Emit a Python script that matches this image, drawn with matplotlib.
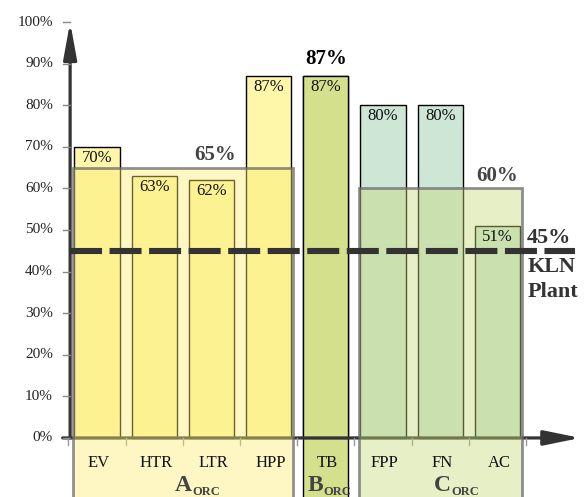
import numpy as np
import matplotlib.pyplot as plt
from matplotlib.patches import Rectangle

plt.rcParams['font.family'] = ['Liberation Serif', 'DejaVu Serif']

# efficiencies per component (%)
categories = ['EV', 'HTR', 'LTR', 'HPP', 'TB', 'FPP', 'FN', 'AC']
values = [70, 63, 62, 87, 87, 80, 80, 51]

# group averages
group_names = ['A', 'B', 'C']
group_members = [[0, 1, 2, 3], [4], [5, 6, 7]]
group_values = [65, 87, 60]
kln_plant = 45

bar_w = 0.79
dark = '#333333'

yellow = '#fef6a8'
mint = '#cde6d6'
olive = '#d4e08c'
bar_colors = [yellow] * 4 + [olive] + [mint] * 3

fig = plt.figure(figsize=(5.86, 4.97), dpi=100)
ax = fig.add_axes([0, 0, 1, 1])
ax.set_xlim(-1.696, 8.549)
ax.set_ylim(-14.2, 105.3)
ax.axis('off')

x = np.arange(len(categories))

# B group: a solid column from the bottom edge up to its value
ax.add_patch(Rectangle((4 - bar_w / 2, -20), bar_w, group_values[1] + 20,
                       facecolor=olive, edgecolor='black', lw=1.0, zorder=1))

# bars
ax.bar(x, values, width=bar_w, color=bar_colors, edgecolor='black',
       linewidth=1.0, zorder=2)

# axes with arrows
ax.annotate('', xy=(-0.47, 100), xytext=(-0.47, 0),
            arrowprops=dict(arrowstyle='-|>,head_length=2.2,head_width=0.4',
                            color=dark, lw=2.3, mutation_scale=10,
                            shrinkA=0, shrinkB=0), zorder=3)
ax.annotate('', xy=(8.45, 0), xytext=(-0.6, 0),
            arrowprops=dict(arrowstyle='-|>,head_length=2.2,head_width=0.45',
                            color=dark, lw=2.3, mutation_scale=10,
                            shrinkA=0, shrinkB=0), zorder=3)

# y ticks and labels
for t in range(0, 101, 10):
    ax.plot([-0.6, -0.47], [t, t], color='#888888', lw=1.0, zorder=3)
    ax.text(-0.77, t, f'{t}%', ha='right', va='center', fontsize=11,
            color='#222222')

# x ticks at the bar boundaries
for b in np.arange(-0.5, 8.0, 1.0):
    ax.plot([b, b], [0, -1.6], color='#999999', lw=1.0, zorder=3)

# translucent group boxes for A and C
pad = 0.03
box_faces = {'A': (253 / 255, 238 / 255, 116 / 255, 0.42),
             'C': (199 / 255, 219 / 255, 122 / 255, 0.42)}
for name, members, gv in zip(group_names, group_members, group_values):
    if name not in box_faces:
        continue
    x0 = members[0] - bar_w / 2 - pad
    x1 = members[-1] + bar_w / 2 + pad
    ax.add_patch(Rectangle((x0, -20), x1 - x0, gv + 20,
                           facecolor=box_faces[name],
                           edgecolor=(0.42, 0.42, 0.42, 0.75),
                           lw=2.0, zorder=4))

# value labels inside the bars
for xi, v in zip(x, values):
    ax.text(xi, v - 0.7, f'{v}%', ha='center', va='top', fontsize=12,
            color='#111111', zorder=7)

# group average labels
ax.text(2.06, 65.6, f'{group_values[0]}%', ha='center', va='bottom',
        fontsize=15, fontweight='bold', color='#444444', zorder=7)
ax.text(4.0, 88.6, f'{group_values[1]}%', ha='center', va='bottom',
        fontsize=15, fontweight='bold', color='black', zorder=7)
ax.text(7.0, 60.6, f'{group_values[2]}%', ha='center', va='bottom',
        fontsize=15, fontweight='bold', color='#444444', zorder=7)

# KLN plant reference line
ax.plot([-0.47, 8.36], [kln_plant, kln_plant], color=dark, lw=4.4,
        dashes=(5.24, 1.23), solid_capstyle='butt', zorder=6)
ax.text(7.52, kln_plant + 0.6, f'{kln_plant}%', ha='left', va='bottom',
        fontsize=16, fontweight='bold', color='#333333', zorder=7)
ax.text(7.52, 41.1, 'KLN', ha='left', va='center', fontsize=16,
        fontweight='bold', color='#333333', zorder=7)
ax.text(7.52, 35.1, 'Plant', ha='left', va='center', fontsize=16,
        fontweight='bold', color='#333333', zorder=7)

# category labels under the axis
for xi, c in zip(x, categories):
    ax.text(xi + 0.03, -6.0, c, ha='center', va='center', fontsize=12,
            color='#111111', zorder=7)

# group names with subscript
for name, right in zip(group_names, [1.66, 3.95, 6.19]):
    ax.text(right, -11.5, name, ha='right', va='center', fontsize=17,
            fontweight='bold', color='#444444', zorder=7)
    ax.text(right, -13.0, 'ORC', ha='left', va='center', fontsize=9,
            fontweight='bold', color='#444444', zorder=7)

fig.savefig('out.png', dpi=100)
